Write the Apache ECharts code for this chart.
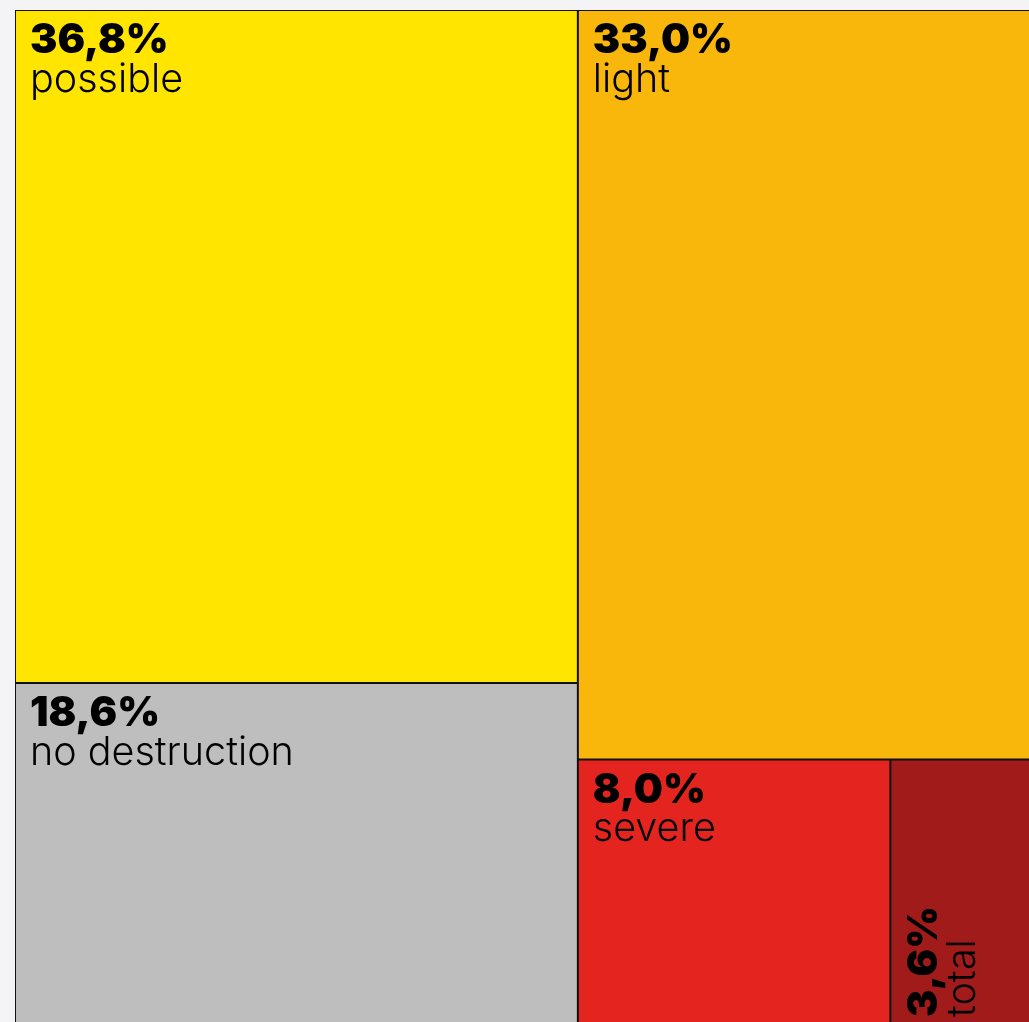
<!DOCTYPE html>
<html>
<head>
<meta charset="utf-8">
<script src="https://cdn.jsdelivr.net/npm/echarts@6/dist/echarts.min.js"></script>
<style>
html,body{margin:0;padding:0;background:#f3f3f5;}
#chart{width:1029px;height:1022px;}
</style>
</head>
<body>
<div id="chart"></div>
<script>
// Data
var categories = ['possible', 'no destruction', 'light', 'severe', 'total'];
var values = [36.8, 18.6, 33.0, 8.0, 3.6];
var colors = ['#FFE500', '#BEBEBE', '#F9B70B', '#E3241F', '#A21B1B'];
// grouping used to reproduce the nested layout: [leftColumn, rightColumn[light, bottomRow]]
var groupLeft = ['possible', 'no destruction'];
var groupRightTop = ['light'];
var groupRightBottom = ['severe', 'total'];

function leaf(name) {
  var i = categories.indexOf(name);
  var item = {
    name: name,
    value: values[i],
    itemStyle: { color: colors[i], borderColor: '#111', borderWidth: 1 }
  };
  if (name === 'total') {
    item.label = {
      rotate: 90,
      position: [8, '100%'],
      verticalAlign: 'top',
      align: 'left'
    };
  }
  return item;
}
function group(name, children) {
  return { name: name, children: children };
}
var treeData = [
  group('left', groupLeft.map(leaf)),
  group('right', groupRightTop.map(leaf).concat([group('rightBottom', groupRightBottom.map(leaf))]))
];

var chart = echarts.init(document.getElementById('chart'));
chart.setOption({
  backgroundColor: '#f4f4f6',
  animation: false,
  series: [{
    type: 'treemap',
    left: 15,
    top: 10,
    width: 1016,
    height: 1013,
    roam: false,
    nodeClick: false,
    breadcrumb: { show: false },
    sort: 'desc',
    squareRatio: 1,
    itemStyle: { gapWidth: 0, borderWidth: 0, borderColor: '#111' },
    label: {
      show: true,
      position: [9, 5],
      overflow: 'none',
      formatter: function (p) {
        return '{p|' + p.value.toFixed(1).replace('.', ',') + '%}\n{n|' + p.name + '}';
      },
      rich: {
        p: { fontFamily: 'Inter', fontWeight: 900, fontSize: 41, lineHeight: 40, color: '#000' },
        n: { fontFamily: 'Inter', fontWeight: 300, fontSize: 39.5, lineHeight: 38, color: '#000' }
      }
    },
    upperLabel: { show: false },
    emphasis: { disabled: true },
    data: treeData
  }]
});
</script>
</body>
</html>
